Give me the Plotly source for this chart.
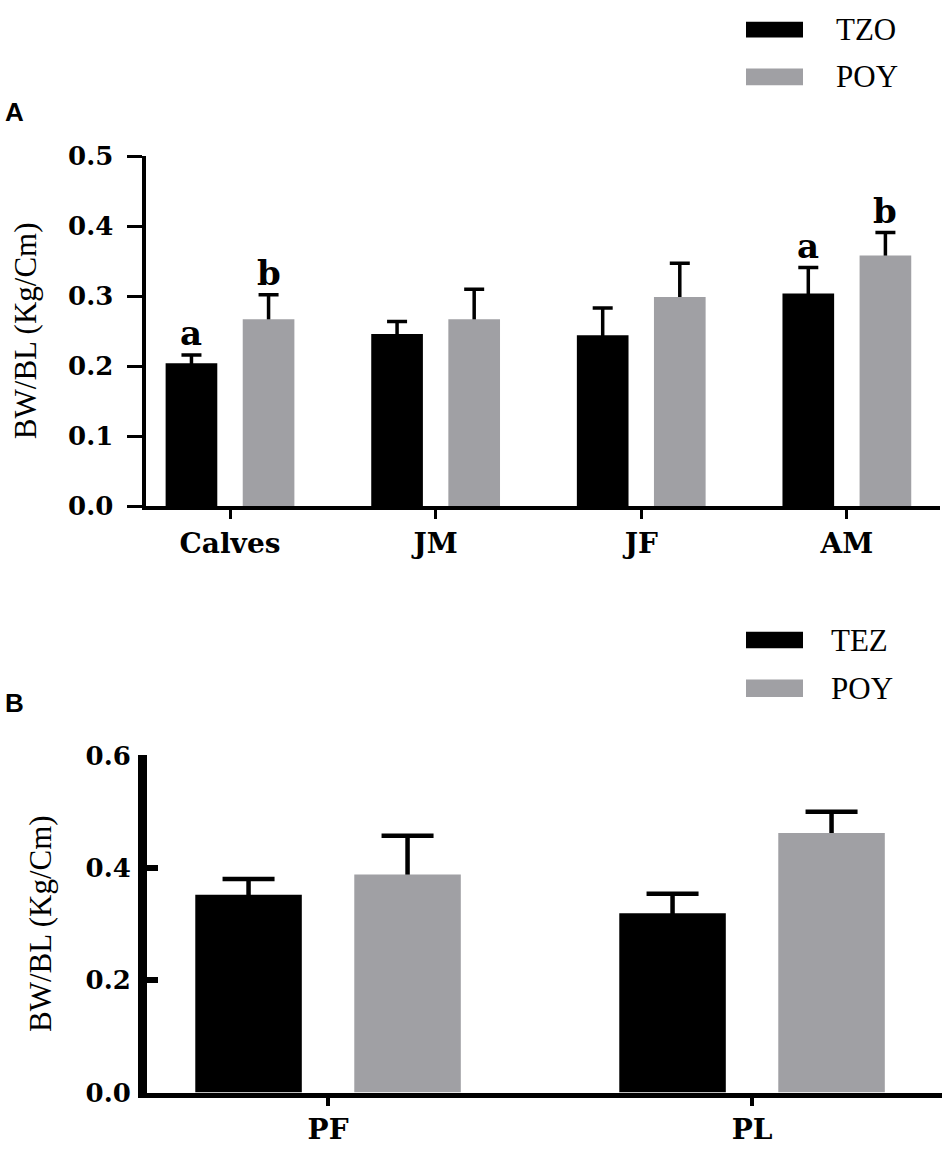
import plotly.graph_objects as go

# ---------------- data ----------------
# Panel A
cats_a = ["Calves", "JM", "JF", "AM"]
tzo_a = [0.204, 0.246, 0.244, 0.304]
tzo_a_err = [0.012, 0.018, 0.039, 0.037]
poy_a = [0.267, 0.267, 0.299, 0.358]
poy_a_err = [0.035, 0.043, 0.048, 0.033]
sig_tzo_a = ["a", "", "", "a"]
sig_poy_a = ["b", "", "", "b"]
legend_a = ["TZO", "POY"]

# Panel B
cats_b = ["PF", "PL"]
tez_b = [0.352, 0.319]
tez_b_err = [0.028, 0.035]
poy_b = [0.388, 0.462]
poy_b_err = [0.069, 0.038]
legend_b = ["TEZ", "POY"]

yticks_a = [0.0, 0.1, 0.2, 0.3, 0.4, 0.5]
yticks_b = [0.0, 0.2, 0.4, 0.6]
ytitle = "BW/BL (Kg/Cm)"

# ---------------- style ----------------
W, H = 950, 1168
BLACK = "#000000"
GREY = "#a0a0a4"
CLEAR = "rgba(0,0,0,0)"
BOLD_SERIF = dict(family="DejaVu Serif", size=26, color="black", weight="bold")
CAT_FONT = dict(family="DejaVu Serif", size=28, color="black", weight="bold")
SERIF = dict(family="Liberation Serif", size=31, color="black")
SANS_B = dict(family="Liberation Sans", size=26, color="black", weight="bold")
LETTER = dict(family="DejaVu Serif", size=34, color="black", weight="bold")


def px_x(p):
    return p / W


def px_y(p):
    return (H - p) / H


# layout geometry (pixels)
A_left, A_right, A_top, A_bot = 145.5, 940, 145, 504
B_left, B_right, B_top, B_bot = 147, 942, 760, 1106
A_range = [-0.411, 3.453]
B_range = [-0.427, 1.448]
BARGAP, BARGROUPGAP = 0.25, 0.33

fig = go.Figure()


def err(arr, thick, width):
    return dict(type="data", array=arr, symmetric=True, color="black",
                thickness=thick, width=width, visible=True)


def add_carrier(cats, vals, errs, name, group, xa, ya, thick, width):
    # error-bar carrier (drawn first, its lower half is hidden by the real bar)
    fig.add_trace(go.Bar(x=cats, y=vals, name=name, offsetgroup=group,
                         marker=dict(color=CLEAR, line=dict(width=0)),
                         error_y=err(errs, thick, width), xaxis=xa, yaxis=ya,
                         showlegend=False, hoverinfo="skip"))


def add_bar(cats, vals, errs, name, color, group, xa, ya):
    fig.add_trace(go.Bar(x=cats, y=vals, name=name, offsetgroup=group,
                         marker=dict(color=color, line=dict(width=0)),
                         customdata=errs, xaxis=xa, yaxis=ya, showlegend=False,
                         hovertemplate="%{x}: %{y:.3f} ± %{customdata:.3f}<extra>" + name + "</extra>"))


# carriers first
add_carrier(cats_a, tzo_a, tzo_a_err, legend_a[0], "a1", "x", "y", 3.5, 10)
add_carrier(cats_a, poy_a, poy_a_err, legend_a[1], "a2", "x", "y", 3.5, 10)
add_carrier(cats_b, tez_b, tez_b_err, legend_b[0], "b1", "x2", "y2", 4.5, 26)
add_carrier(cats_b, poy_b, poy_b_err, legend_b[1], "b2", "x2", "y2", 4.5, 26)
# real bars on top
add_bar(cats_a, tzo_a, tzo_a_err, legend_a[0], BLACK, "a1", "x", "y")
add_bar(cats_a, poy_a, poy_a_err, legend_a[1], GREY, "a2", "x", "y")
add_bar(cats_b, tez_b, tez_b_err, legend_b[0], BLACK, "b1", "x2", "y2")
add_bar(cats_b, poy_b, poy_b_err, legend_b[1], GREY, "b2", "x2", "y2")

annotations = []
shapes = []

# significance letters (panel A)
cat_px_a = (A_right - A_left) / (A_range[1] - A_range[0])
slot_a = cat_px_a * (1 - BARGAP) / 2
for i, c in enumerate(cats_a):
    for lab, val, e, sh in ((sig_tzo_a[i], tzo_a[i], tzo_a_err[i], -slot_a / 2),
                            (sig_poy_a[i], poy_a[i], poy_a_err[i], slot_a / 2)):
        if lab:
            annotations.append(dict(x=c, y=val + e, xref="x", yref="y", text=lab, showarrow=False,
                                    yanchor="bottom", xanchor="center", xshift=sh, yshift=0,
                                    font=LETTER))

# y-axis titles
annotations.append(dict(x=px_x(25), y=px_y((A_top + A_bot) / 2), xref="paper", yref="paper",
                        text=ytitle, textangle=-90, showarrow=False, xanchor="center", yanchor="middle",
                        font=SERIF))
annotations.append(dict(x=px_x(40), y=px_y((B_top + B_bot) / 2), xref="paper", yref="paper",
                        text=ytitle, textangle=-90, showarrow=False, xanchor="center", yanchor="middle",
                        font=SERIF))

# panel labels
annotations.append(dict(x=px_x(3), y=px_y(100), xref="paper", yref="paper", text="A", showarrow=False,
                        xanchor="left", yanchor="middle", font=SANS_B))
annotations.append(dict(x=px_x(3), y=px_y(706), xref="paper", yref="paper", text="B", showarrow=False,
                        xanchor="left", yanchor="middle", font=SANS_B))


# legends (drawn manually)
def legend_item(label, color, sw_top, sw_bot, text_x):
    shapes.append(dict(type="rect", xref="paper", yref="paper", x0=px_x(746), x1=px_x(803),
                       y0=px_y(sw_bot), y1=px_y(sw_top), fillcolor=color, line=dict(width=0)))
    annotations.append(dict(x=px_x(text_x), y=px_y((sw_top + sw_bot) / 2), xref="paper", yref="paper",
                            text=label, showarrow=False, xanchor="left", yanchor="middle", font=SERIF))


legend_item(legend_a[0], BLACK, 7, 23, 834)
legend_item(legend_a[1], GREY, 55, 72, 834)
legend_item(legend_b[0], BLACK, 633, 650, 829)
legend_item(legend_b[1], GREY, 682, 700, 829)

fig.update_layout(
    width=W, height=H,
    margin=dict(l=0, r=0, t=0, b=0),
    paper_bgcolor="white", plot_bgcolor="white",
    barmode="group", bargap=BARGAP, bargroupgap=BARGROUPGAP,
    showlegend=False,
    xaxis=dict(domain=[px_x(A_left), px_x(A_right)], anchor="y", range=A_range, type="category",
               categoryorder="array", categoryarray=cats_a,
               showline=True, linecolor="black", linewidth=4, ticks="outside", ticklen=9, tickwidth=3,
               tickcolor="black", showgrid=False, zeroline=False, tickfont=CAT_FONT, fixedrange=True),
    yaxis=dict(domain=[px_y(A_bot), px_y(A_top)], anchor="x", range=[0, 0.5], tickvals=yticks_a,
               ticktext=[f"{v:.1f}" for v in yticks_a],
               showline=True, linecolor="black", linewidth=4, ticks="outside", ticklen=15, tickwidth=3,
               tickcolor="black", showgrid=False, zeroline=False, tickfont=BOLD_SERIF,
               ticklabelstandoff=8, fixedrange=True),
    xaxis2=dict(domain=[px_x(B_left), px_x(B_right)], anchor="y2", range=B_range, type="category",
                categoryorder="array", categoryarray=cats_b,
                showline=True, linecolor="black", linewidth=5, ticks="outside", ticklen=8, tickwidth=4,
                tickcolor="black", showgrid=False, zeroline=False, tickfont=CAT_FONT, fixedrange=True),
    yaxis2=dict(domain=[px_y(B_bot), px_y(B_top)], anchor="x2", range=[0, 0.6], tickvals=yticks_b,
                ticktext=[f"{v:.1f}" for v in yticks_b],
                showline=True, linecolor="black", linewidth=9, ticks="inside", ticklen=11, tickwidth=6,
                tickcolor="black", showgrid=False, zeroline=False, tickfont=BOLD_SERIF,
                ticklabelstandoff=2, fixedrange=True),
    annotations=annotations,
    shapes=shapes,
)

fig.write_html("out.html", config={"displayModeBar": False},
               post_script="document.body.style.margin='0';")
